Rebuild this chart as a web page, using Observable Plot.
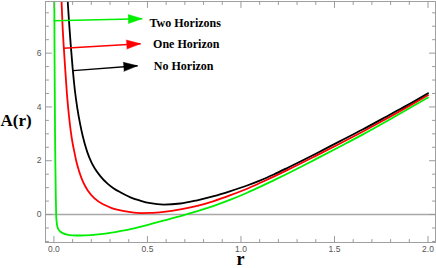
<!DOCTYPE html>
<html><head><meta charset="utf-8">
<script src="https://cdn.jsdelivr.net/npm/d3@7"></script>
<script src="https://cdn.jsdelivr.net/npm/@observablehq/plot@0.6"></script>
<style>body{margin:0;background:#fff} #chart svg{display:block}</style>
</head><body><div id="chart"></div>
<script>
// ---- data ----
const greenR = [0.0015, 0.002, 0.004, 0.006, 0.008, 0.010, 0.012, 0.015, 0.02, 0.027, 0.035, 0.05, 0.07, 0.1, 0.14, 0.2, 0.25, 0.3, 0.35, 0.41, 0.46, 0.52, 0.59, 0.65, 0.71, 0.78, 0.855, 0.944, 1.033, 1.104, 1.175, 1.25, 1.4, 1.53, 1.65, 1.8, 1.9, 2.0];
const greenA = [9, 8.0, 5.2, 3.0, 1.7, 0.7, 0.0, -0.3, -0.48, -0.58, -0.64, -0.70, -0.745, -0.772, -0.78, -0.762, -0.727, -0.68, -0.62, -0.54, -0.46, -0.35, -0.22, -0.11, 0.01, 0.155, 0.324, 0.551, 0.81, 1.035, 1.27, 1.525, 2.06, 2.53, 2.97, 3.55, 3.95, 4.35];
const redR = [0.036, 0.041, 0.046, 0.052, 0.061, 0.07, 0.08, 0.09, 0.1, 0.11, 0.12, 0.135, 0.154, 0.18, 0.217, 0.266, 0.306, 0.338, 0.409, 0.466, 0.516, 0.587, 0.676, 0.766, 0.855, 0.944, 1.033, 1.104, 1.175, 1.25, 1.4, 1.53, 1.65, 1.8, 1.9, 2.0];
const redA = [8.8, 7.9, 7.05, 6.3, 5.35, 4.45, 3.7, 3.1, 2.65, 2.3, 1.97, 1.6, 1.24, 0.9, 0.6, 0.37, 0.25, 0.18, 0.09, 0.055, 0.06, 0.1, 0.19, 0.32, 0.5, 0.72, 0.96, 1.18, 1.41, 1.66, 2.18, 2.64, 3.08, 3.65, 4.04, 4.44];
const blackR = [0.066, 0.074, 0.082, 0.09, 0.1, 0.112, 0.125, 0.14, 0.154, 0.178, 0.2, 0.217, 0.249, 0.288, 0.32, 0.36, 0.409, 0.46, 0.516, 0.587, 0.676, 0.766, 0.855, 0.944, 1.033, 1.104, 1.175, 1.25, 1.4, 1.53, 1.65, 1.8, 1.9, 2.0];
const blackA = [8.75, 7.9, 7.05, 6.3, 5.45, 4.62, 3.96, 3.37, 2.92, 2.33, 1.95, 1.73, 1.42, 1.14, 0.97, 0.81, 0.64, 0.52, 0.42, 0.37, 0.41, 0.53, 0.68, 0.87, 1.08, 1.27, 1.49, 1.74, 2.26, 2.73, 3.16, 3.73, 4.11, 4.51];

const seriesNames = ["Two Horizons", "One Horizon", "No Horizon"];
const seriesColors = ["#00ee00", "#ff0000", "#000000"];
const arrowStartR = [-0.001, 0.052, 0.103];
const arrowStartA = [7.20, 6.18, 5.35];
const arrowEndR = [0.472, 0.463, 0.447];
const arrowEndA = [7.28, 6.35, 5.53];
const labelR = [0.511, 0.53, 0.534];
const labelA = [7.11, 6.35, 5.51];

const xMajor = [0, 0.5, 1.0, 1.5, 2.0];
const xMinor = d3.range(0, 21).map(i => i / 10).filter(v => !xMajor.some(m => Math.abs(m - v) < 1e-9));
const yMajor = [0, 2, 4, 6];
const yMinor = d3.range(-2, 16).map(i => i / 2).filter(v => !yMajor.includes(v));

const xDomain = [-0.045, 2.04];
const yDomain = [-1.04, 7.92];

// ---- layout ----
const W = 436, H = 268, mL = 45, mR = 1, mT = 1, mB = 26;
const kx = (W - mL - mR) / (xDomain[1] - xDomain[0]);
const ky = (H - mT - mB) / (yDomain[1] - yDomain[0]);

const curves = [
  ...greenR.map((r, i) => ({r, A: greenA[i], s: 0})),
  ...redR.map((r, i) => ({r, A: redA[i], s: 1})),
  ...blackR.map((r, i) => ({r, A: blackA[i], s: 2}))
];
const ann = seriesNames.map((name, i) => ({
  name, color: seriesColors[i],
  r1: arrowStartR[i], A1: arrowStartA[i], r2: arrowEndR[i], A2: arrowEndA[i],
  lr: labelR[i], la: labelA[i],
  rot: Math.atan2((arrowEndR[i] - arrowStartR[i]) * kx, (arrowEndA[i] - arrowStartA[i]) * ky) * 180 / Math.PI
}));

const tickLine = {draw(ctx, l) { ctx.moveTo(0, 0); ctx.lineTo(0, -l); }};
const tickColor = "#9a9a9a";
function ticks(values, axis, len) {
  if (axis === "bottom") return Plot.vector(values, {x: d => d, y: () => yDomain[0], rotate: 0, length: len, anchor: "start", shape: tickLine, stroke: tickColor, strokeWidth: 1});
  if (axis === "top") return Plot.vector(values, {x: d => d, y: () => yDomain[1], rotate: 180, length: len, anchor: "start", shape: tickLine, stroke: tickColor, strokeWidth: 1});
  if (axis === "left") return Plot.vector(values, {y: d => d, x: () => xDomain[0], rotate: 90, length: len, anchor: "start", shape: tickLine, stroke: tickColor, strokeWidth: 1});
  return Plot.vector(values, {y: d => d, x: () => xDomain[1], rotate: 270, length: len, anchor: "start", shape: tickLine, stroke: tickColor, strokeWidth: 1});
}

const chart = Plot.plot({
  width: W, height: H,
  marginLeft: mL, marginRight: mR, marginTop: mT, marginBottom: mB,
  x: {domain: xDomain},
  y: {domain: yDomain},
  style: {background: "#fff"},
  marks: [
    Plot.ruleY([0], {stroke: "#a8a8a8", strokeWidth: 1.6}),
    Plot.line(curves, {x: "r", y: "A", z: "s", stroke: d => seriesColors[d.s], strokeWidth: 1.8, curve: "monotone-x", clip: true}),
    Plot.link(ann, {x1: "r1", y1: "A1", x2: "r2", y2: "A2", stroke: "color", strokeWidth: 1.5}),
    Plot.vector(ann, {x: "r2", y: "A2", rotate: "rot", length: 14, r: 4.5, shape: "spike", anchor: "end", fill: "color", stroke: "color", strokeWidth: 0.5}),
    Plot.text(ann, {x: "lr", y: "la", text: "name", textAnchor: "start", fontFamily: "'Liberation Serif', 'Times New Roman', serif", fontWeight: "bold", fontSize: 12, fill: "#000"}),
    Plot.frame({stroke: "#a0a0a0", strokeWidth: 1}),
    ticks(xMajor, "bottom", 6), ticks(xMinor, "bottom", 3),
    ticks(xMajor, "top", 6), ticks(xMinor, "top", 3),
    ticks(yMajor, "left", 6), ticks(yMinor, "left", 3),
    ticks(yMajor, "right", 6), ticks(yMinor, "right", 3),
    Plot.axisX(xMajor, {anchor: "bottom", tickSize: 0, tickPadding: 3, tickFormat: d3.format(".1f"), fontSize: 8.5, fill: "#555", fontFamily: "'Liberation Sans', Arial, sans-serif", label: null}),
    Plot.axisY(yMajor, {anchor: "left", tickSize: 0, tickPadding: 4, tickFormat: d3.format("d"), fontSize: 8.5, fill: "#555", fontFamily: "'Liberation Sans', Arial, sans-serif", label: null}),
    Plot.text(["A(r)"], {frameAnchor: "left", dx: -45, dy: -1, textAnchor: "start", fontFamily: "'Liberation Serif', 'Times New Roman', serif", fontWeight: "bold", fontSize: 17, fill: "#000"}),
    Plot.text(["r"], {frameAnchor: "bottom", dy: 22, lineAnchor: "bottom", textAnchor: "middle", fontFamily: "'Liberation Serif', 'Times New Roman', serif", fontWeight: "bold", fontSize: 18, fill: "#000"})
  ]
});
document.getElementById("chart").appendChild(chart);
</script>
</body></html>
